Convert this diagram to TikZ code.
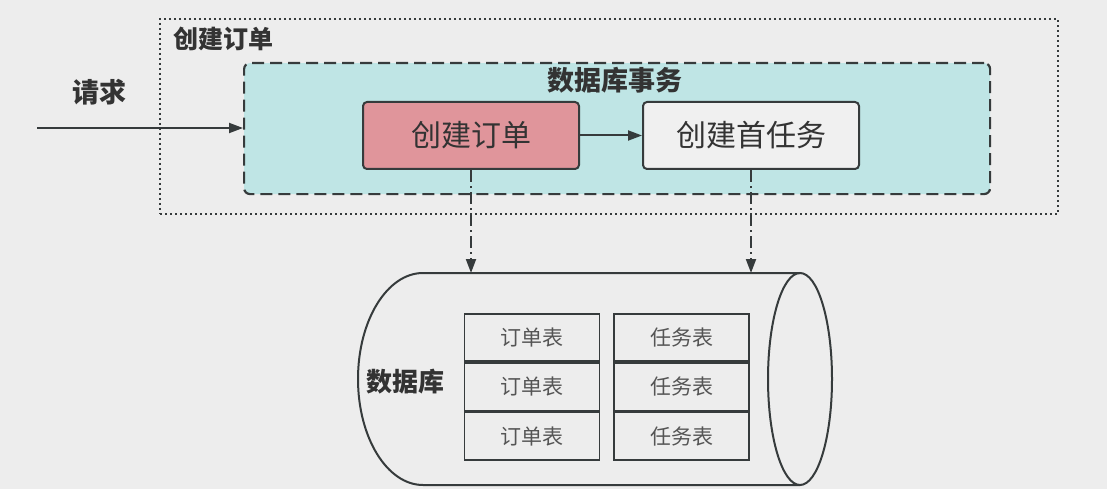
\documentclass[tikz,border=0pt]{standalone}
\usepackage{fontspec}
\setmainfont{Noto Sans CJK SC}
\usetikzlibrary{arrows.meta,shapes.geometric}
\definecolor{bg}{HTML}{EDEDED}
\definecolor{ln}{HTML}{363B3C}
\definecolor{txfill}{HTML}{BFE5E5}
\definecolor{pinkfill}{HTML}{E0959B}
\definecolor{boxfill}{HTML}{F0F0F0}
\definecolor{tx}{HTML}{333333}
\definecolor{lighttx}{HTML}{555555}
\tikzset{
  proc/.style={draw=ln, line width=2pt, rounded corners=4pt, minimum width=216pt, minimum height=67pt, inner sep=0pt, font=\fontsize{30}{34}\selectfont, text=tx},
  tbl/.style={draw=ln, line width=1.8pt, minimum width=135pt, minimum height=47.5pt, inner sep=0pt, font=\fontsize{21}{24}\selectfont, text=lighttx},
  lbl/.style={font=\bfseries\fontsize{25}{28}\selectfont, text=tx, inner sep=0pt},
  arr/.style={-{Triangle[length=14pt,width=10pt]}, draw=ln, line width=2pt},
  dasharr/.style={arr, dash pattern=on 12pt off 4pt on 2pt off 4pt},
}
\begin{document}
\begin{tikzpicture}[x=1pt,y=-1pt]
\fill[bg] (0,0) rectangle (1107,489);
\useasboundingbox (0,0) rectangle (1107,489);
% outer dotted box
\node[draw=ln, line width=2pt, dash pattern=on 2pt off 3pt, minimum width=898pt, minimum height=195pt, inner sep=0pt, anchor=north west] (outer) at (159,18) {};
\node[lbl, anchor=west] (outerlbl) at (173,39) {创建订单};
% transaction box
\node[draw=ln, fill=txfill, line width=2.2pt, dash pattern=on 12pt off 6pt, rounded corners=6pt, minimum width=746pt, minimum height=131pt, inner sep=0pt, anchor=north west] (tx) at (243,62) {};
\node[lbl, font=\bfseries\fontsize{27}{30}\selectfont] (txlbl) at (615,80) {数据库事务};
% process boxes
\node[proc, fill=pinkfill] (order) at (471,135.5) {创建订单};
\node[proc, fill=boxfill] (task) at (751,135.5) {创建首任务};
\draw[arr] (order) -- (task);
% request
\coordinate (reqstart) at (37,128);
\node[lbl, font=\bfseries\fontsize{27}{30}\selectfont] (reqlbl) at (99,92) {请求};
\draw[arr] (reqstart) -- (reqstart -| tx.west);
% database cylinder
\draw[ln, line width=2pt] (800,273) -- (423,273) arc[start angle=90, end angle=270, x radius=65pt, y radius=106pt] -- (800,485);
\node[draw=ln, line width=2pt, ellipse, minimum width=64pt, minimum height=212pt, inner sep=0pt] (dbend) at (800,379) {};
\coordinate (dbtop) at (600,273);
\node[lbl, font=\bfseries\fontsize{26}{28}\selectfont] (dblbl) at (405,382) {数据库};
% tables
\node[tbl] (o1) at (532,337.5) {订单表};
\node[tbl, anchor=north] (o2) at (o1.south) {订单表};
\node[tbl, anchor=north] (o3) at (o2.south) {订单表};
\node[tbl] (t1) at (681.5,337.5) {任务表};
\node[tbl, anchor=north] (t2) at (t1.south) {任务表};
\node[tbl, anchor=north] (t3) at (t2.south) {任务表};
% dash-dot arrows
\draw[dasharr] (order.south) -- (order.south |- dbtop);
\draw[dasharr] (task.south) -- (task.south |- dbtop);
\end{tikzpicture}
\end{document}
